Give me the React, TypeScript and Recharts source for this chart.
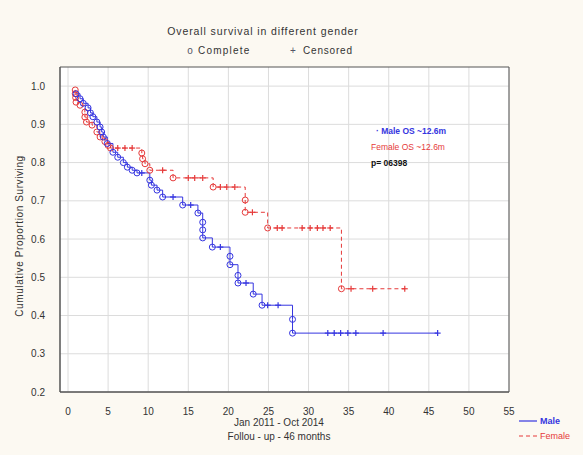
import React from "react";
import {
  ComposedChart,
  Line,
  XAxis,
  YAxis,
  CartesianGrid,
  ReferenceArea,
} from "recharts";

// ---- Data ----
const xTicks = [0, 5, 10, 15, 20, 25, 30, 35, 40, 45, 50, 55];
const yTicks = [0.2, 0.3, 0.4, 0.5, 0.6, 0.7, 0.8, 0.9, 1.0];

// Male: time (months), cumulative survival, kind (e = complete, c = censored)
const maleTime = [
  1.0, 1.5, 1.9, 2.5, 2.8, 3.1, 3.6, 4.0, 4.2, 4.4, 4.9, 5.6, 6.2, 6.9, 7.4, 8.0,
  8.6, 9.2, 10.2, 10.4, 11.1, 11.8, 13.1, 14.3, 15.3, 16.2, 16.8, 16.8, 16.8,
  18.0, 19.0, 20.2, 20.2, 21.2, 21.2, 22.2, 23.1, 24.2, 24.9, 26.2, 28.0, 28.0,
  32.4, 33.2, 34.0, 34.9, 35.9, 39.3, 46.1,
];
const maleSurv = [
  0.98, 0.967, 0.955, 0.943, 0.93, 0.92, 0.906, 0.893, 0.88, 0.867, 0.85, 0.827,
  0.814, 0.8, 0.788, 0.78, 0.773, 0.773, 0.754, 0.741, 0.728, 0.71, 0.71, 0.689,
  0.689, 0.668, 0.644, 0.624, 0.603, 0.579, 0.579, 0.555, 0.533, 0.505, 0.485,
  0.485, 0.456, 0.427, 0.427, 0.427, 0.39, 0.354, 0.354, 0.354, 0.354, 0.354,
  0.354, 0.354, 0.354,
];
const maleKind = [
  "e", "e", "e", "e", "e", "e", "e", "e", "e", "e", "e", "e", "e", "e", "e", "e",
  "e", "c", "e", "e", "e", "e", "c", "e", "c", "e", "e", "e", "e",
  "e", "c", "e", "e", "e", "e", "c", "e", "e", "c", "c", "e", "e",
  "c", "c", "c", "c", "c", "c", "c",
];

// Female
const femaleTime = [
  0.9, 0.9, 0.95, 1.0, 1.5, 2.1, 2.1, 2.3, 3.0, 3.6, 4.0, 4.6, 5.0, 5.3, 6.2, 7.1,
  8.0, 9.2, 9.3, 9.6, 10.2, 11.8, 13.1, 15.0, 15.8, 16.8, 18.1, 19.0, 19.8, 20.8,
  22.1, 22.1, 23.0, 24.9, 26.1, 26.7, 29.2, 30.2, 31.1, 31.8, 32.7, 34.1, 35.3,
  38.0, 42.0,
];
const femaleSurv = [
  0.99, 0.98, 0.97, 0.958, 0.95, 0.932, 0.919, 0.906, 0.898, 0.88, 0.867, 0.855,
  0.845, 0.838, 0.838, 0.838, 0.838, 0.825, 0.81, 0.797, 0.78, 0.78, 0.76, 0.76,
  0.76, 0.76, 0.736, 0.736, 0.736, 0.736, 0.702, 0.67, 0.67, 0.629, 0.629, 0.629,
  0.629, 0.629, 0.629, 0.629, 0.629, 0.47, 0.47, 0.47, 0.47,
];
const femaleKind = [
  "e", "e", "e", "e", "e", "e", "e", "e", "e", "e", "e", "e", "e", "e", "c", "c",
  "c", "e", "e", "e", "e", "c", "e", "c", "c", "c", "e", "c", "c", "c",
  "e", "e", "c", "e", "c", "c", "c", "c", "c", "c", "c", "e", "c",
  "c", "c",
];

const maleData = maleTime.map((t, i) => ({ t, s: maleSurv[i], k: maleKind[i] }));
const femaleData = femaleTime.map((t, i) => ({ t, s: femaleSurv[i], k: femaleKind[i] }));

const BLUE = "#3535e0";
const RED = "#e63a3a";
const FONT = "'Liberation Sans', Arial, sans-serif";

const makeDot = (color: string) => (props: any) => {
  const { cx, cy, payload, index } = props;
  if (cx == null || cy == null) return <g key={`d-${index}`} />;
  if (payload.k === "c") {
    return (
      <g key={`d-${index}`}>
        <line x1={cx - 3} x2={cx + 3} y1={cy} y2={cy} stroke={color} strokeWidth={1.2} />
        <line x1={cx} x2={cx} y1={cy - 3} y2={cy + 3} stroke={color} strokeWidth={1.2} />
      </g>
    );
  }
  return (
    <circle
      key={`d-${index}`}
      cx={cx}
      cy={cy}
      r={3}
      fill="none"
      stroke={color}
      strokeWidth={1}
    />
  );
};

export default function App() {
  const W = 583;
  const H = 455;
  return (
    <div
      style={{
        position: "absolute",
        left: 0,
        top: 0,
        width: W,
        height: H,
        background: "#fcf9f2",
        fontFamily: FONT,
      }}
    >
      <ComposedChart
        width={W}
        height={H}
        margin={{ top: 67, right: 74, bottom: 0, left: 0 }}
      >
        <CartesianGrid
          stroke="#dcdcdc"
          fill="#ffffff"
          horizontalValues={yTicks}
          verticalValues={xTicks}
        />
        <XAxis
          type="number"
          dataKey="t"
          domain={[-1, 55]}
          ticks={xTicks}
          allowDataOverflow
          height={63}
          tickLine={false}
          tickMargin={10}
          axisLine={{ stroke: "#555" }}
          tick={{ fontSize: 10, fill: "#333", fontFamily: FONT }}
        />
        <YAxis
          type="number"
          domain={[0.2, 1.05]}
          ticks={yTicks}
          allowDataOverflow
          width={60}
          tickLine={false}
          tickMargin={9}
          axisLine={{ stroke: "#555" }}
          tickFormatter={(v: number) => v.toFixed(1)}
          tick={{ fontSize: 10, fill: "#333", fontFamily: FONT }}
        />
        <ReferenceArea
          x1={-1}
          x2={55}
          y1={0.2}
          y2={1.05}
          fill="none"
          fillOpacity={0}
          stroke="#555"
          strokeWidth={1}
          ifOverflow="visible"
        />
        <Line
          data={femaleData}
          dataKey="s"
          type="stepAfter"
          stroke={RED}
          strokeWidth={1}
          strokeDasharray="4 3"
          dot={makeDot(RED)}
          activeDot={false}
          isAnimationActive={false}
        />
        <Line
          data={maleData}
          dataKey="s"
          type="stepAfter"
          stroke={BLUE}
          strokeWidth={1}
          dot={makeDot(BLUE)}
          activeDot={false}
          isAnimationActive={false}
        />
      </ComposedChart>
      <svg
        width={W}
        height={H}
        style={{ position: "absolute", left: 0, top: 0, pointerEvents: "none" }}
        fontFamily={FONT}
      >
        <text x={263} y={35} textAnchor="middle" fontSize={10.5} fill="#333" letterSpacing={0.9}>
          Overall survival in different gender
        </text>
        <text x={190} y={54} textAnchor="middle" fontSize={10} fill="#556">o</text>
        <text x={198} y={54} fontSize={10} fill="#333" letterSpacing={1.2}>Complete</text>
        <text x={293} y={54} textAnchor="middle" fontSize={10} fill="#556">+</text>
        <text x={303} y={54} fontSize={10} fill="#333" letterSpacing={0.8}>Censored</text>
        <text
          x={23}
          y={236}
          textAnchor="middle"
          fontSize={10}
          fill="#333"
          letterSpacing={0.6}
          transform="rotate(-90 23 236)"
        >
          Cumulative Proportion Surviving
        </text>
        <text x={279} y={426} textAnchor="middle" fontSize={10} fill="#333">
          Jan 2011 - Oct 2014
        </text>
        <text x={279} y={440} textAnchor="middle" fontSize={10} fill="#333">
          Follou - up - 46 months
        </text>
        <text x={376} y={134} fontSize={8.5} fill={BLUE} fontWeight="bold">
          · Male  OS ~12.6m
        </text>
        <text x={371} y={150} fontSize={8.5} fill={RED}>
          Female OS ~12.6m
        </text>
        <text x={371} y={166} fontSize={8.5} fill="#111" fontWeight="bold">
          p= 06398
        </text>
        <line x1={519} x2={537} y1={421} y2={421} stroke={BLUE} strokeWidth={1.2} />
        <text x={540} y={424} fontSize={9} fill={BLUE} fontWeight="bold">
          Male
        </text>
        <line x1={519} x2={537} y1={436} y2={436} stroke={RED} strokeWidth={1.2} strokeDasharray="4 3" />
        <text x={540} y={439} fontSize={9} fill={RED}>
          Female
        </text>
      </svg>
    </div>
  );
}
